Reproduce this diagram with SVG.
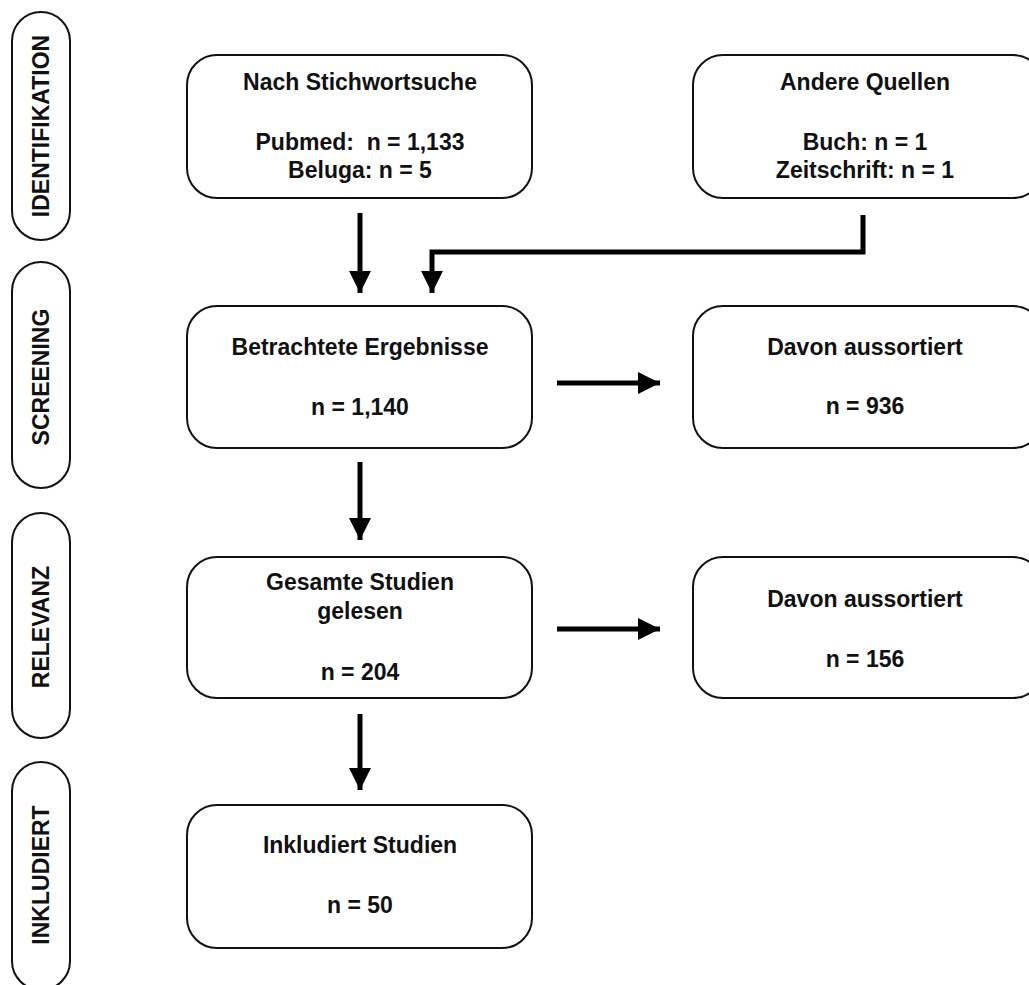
<svg xmlns="http://www.w3.org/2000/svg" width="1029" height="985" viewBox="0 0 1029 985">
<style>
.box{fill:#fff;stroke:#111;stroke-width:2}
.pill{fill:#fff;stroke:#111;stroke-width:2}
text{font-family:"Liberation Sans",Arial,sans-serif;font-weight:bold;font-size:23px;fill:#111;text-anchor:middle}
.conn{fill:none;stroke:#000;stroke-width:5}
</style>
<defs>
<marker id="ah" markerUnits="userSpaceOnUse" markerWidth="22" markerHeight="22" viewBox="0 0 20 20" refX="20" refY="10" orient="auto">
<path d="M0,0 L20,10 L0,20 Z" fill="#000"/>
</marker>
</defs>
<rect width="1029" height="985" fill="#fff"/>
<g id="phase-identifikation"><rect class="pill" x="12" y="12" width="58" height="228" rx="29"/><text transform="translate(49,126) rotate(-90)">IDENTIFIKATION</text></g>
<g id="phase-screening"><rect class="pill" x="12" y="262" width="58" height="226" rx="29"/><text transform="translate(49,377) rotate(-90)">SCREENING</text></g>
<g id="phase-relevanz"><rect class="pill" x="12" y="513" width="58" height="225" rx="29"/><text transform="translate(49,627) rotate(-90)">RELEVANZ</text></g>
<g id="phase-inkludiert"><rect class="pill" x="12" y="762" width="58" height="228" rx="29"/><text transform="translate(49,875) rotate(-90)">INKLUDIERT</text></g>

<g id="node-stichwortsuche"><rect class="box" x="187" y="55" width="345" height="143" rx="30"/>
<text x="360" y="90">Nach Stichwortsuche</text><text x="360" y="150">Pubmed:&#160; n = 1,133</text><text x="360" y="178">Beluga: n = 5</text></g>
<g id="node-andere-quellen"><rect class="box" x="693" y="55" width="350" height="143" rx="30"/>
<text x="865" y="90">Andere Quellen</text><text x="865" y="150">Buch: n = 1</text><text x="865" y="178">Zeitschrift: n = 1</text></g>
<g id="node-betrachtete"><rect class="box" x="187" y="306" width="345" height="142" rx="30"/>
<text x="360" y="355">Betrachtete Ergebnisse</text><text x="360" y="415">n = 1,140</text></g>
<g id="node-aussortiert-1"><rect class="box" x="693" y="306" width="350" height="142" rx="30"/>
<text x="865" y="355">Davon aussortiert</text><text x="865" y="414">n = 936</text></g>
<g id="node-gesamte"><rect class="box" x="187" y="557" width="345" height="141" rx="30"/>
<text x="360" y="590">Gesamte Studien</text><text x="360" y="619">gelesen</text><text x="360" y="680">n = 204</text></g>
<g id="node-aussortiert-2"><rect class="box" x="693" y="557" width="350" height="141" rx="30"/>
<text x="865" y="607">Davon aussortiert</text><text x="865" y="667">n = 156</text></g>
<g id="node-inkludiert"><rect class="box" x="187" y="805" width="345" height="143" rx="30"/>
<text x="360" y="853">Inkludiert Studien</text><text x="360" y="913">n = 50</text></g>

<g id="connectors">
<path class="conn" d="M360,213 L360,293" marker-end="url(#ah)"/>
<path class="conn" d="M863,215 L863,252 L432,252 L432,293" marker-end="url(#ah)"/>
<path class="conn" d="M557,383 L660,383" marker-end="url(#ah)"/>
<path class="conn" d="M360,462 L360,540" marker-end="url(#ah)"/>
<path class="conn" d="M557,629 L660,629" marker-end="url(#ah)"/>
<path class="conn" d="M360,714 L360,790" marker-end="url(#ah)"/>
</g>
</svg>
